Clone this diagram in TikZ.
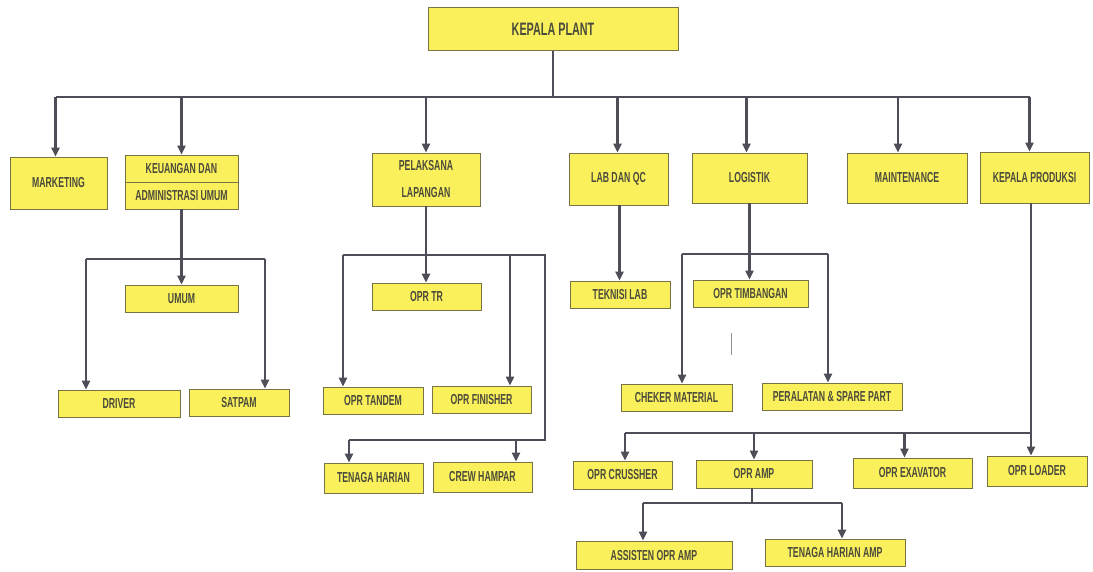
\documentclass[tikz,border=0pt]{standalone}
\usepackage{fontspec}
\setmainfont{Liberation Sans}[FakeStretch=0.6]
\usetikzlibrary{arrows.meta,calc,positioning}

\definecolor{boxfill}{RGB}{250,240,92}
\definecolor{boxline}{RGB}{120,115,70}
\definecolor{wire}{RGB}{78,78,88}
\definecolor{ink}{RGB}{75,75,60}

\begin{document}
\begin{tikzpicture}[x=1pt,y=-1pt,
  box/.style={draw=boxline,line width=0.8pt,fill=boxfill,text=ink,inner sep=0pt,
    font=\fontsize{14.5}{27}\selectfont\bfseries,align=center},
  line/.style={draw=wire,line width=2.6pt},
  arr/.style={line,-{Triangle[length=9pt,width=8pt]}}]
  \useasboundingbox (0,0) rectangle (1093,571);
  % top level
  \node[box,minimum width=250,minimum height=43,font=\fontsize{18}{20}\selectfont\bfseries] (plant) at (553,29) {KEPALA PLANT};
  \node[box,minimum width=97,minimum height=52] (mkt) at (58.5,183) {MARKETING};
  \node[box,minimum width=113,minimum height=54] (keu) at (181.5,182) {KEUANGAN DAN\\ADMINISTRASI UMUM};
  \draw[boxline,line width=0.8pt] (keu.west) -- (keu.east);
  \node[box,minimum width=108,minimum height=53] (pel) at (426,179.5) {PELAKSANA\\LAPANGAN};
  \node[box,minimum width=99,minimum height=52] (lab) at (618.5,179) {LAB DAN QC};
  \node[box,minimum width=115,minimum height=50] (log) at (749.5,178) {LOGISTIK};
  \node[box,minimum width=120,minimum height=50] (maint) at (907,178) {MAINTENANCE};
  \node[box,minimum width=109,minimum height=51] (prod) at (1034.5,177.5) {KEPALA PRODUKSI};
  % second level
  \node[box,minimum width=113,minimum height=27] (umum) at (181.5,298.5) {UMUM};
  \node[box,minimum width=122,minimum height=27] (driver) at (119,403.5) {DRIVER};
  \node[box,minimum width=100,minimum height=27] (satpam) at (239,402.5) {SATPAM};
  \node[box,minimum width=109,minimum height=27] (oprtr) at (426.5,296.5) {OPR TR};
  \node[box,minimum width=100,minimum height=27] (tandem) at (373,400.5) {OPR TANDEM};
  \node[box,minimum width=99,minimum height=27] (finisher) at (481.5,399.5) {OPR FINISHER};
  \node[box,minimum width=99,minimum height=30] (harian) at (373.5,478) {TENAGA HARIAN};
  \node[box,minimum width=99,minimum height=30] (crew) at (482.5,477) {CREW HAMPAR};
  \node[box,minimum width=100,minimum height=27] (teklab) at (620,294.5) {TEKNISI LAB};
  \node[box,minimum width=115,minimum height=27] (timbang) at (750.5,293.5) {OPR TIMBANGAN};
  \node[box,minimum width=111,minimum height=27] (cheker) at (676.5,397.5) {CHEKER MATERIAL};
  \node[box,minimum width=140,minimum height=27] (spare) at (832,396.5) {PERALATAN \& SPARE PART};
  \node[box,minimum width=99,minimum height=28] (crusher) at (622.5,475) {OPR CRUSSHER};
  \node[box,minimum width=116,minimum height=28] (amp) at (754,474) {OPR AMP};
  \node[box,minimum width=119,minimum height=30] (exa) at (912.5,473) {OPR EXAVATOR};
  \node[box,minimum width=100,minimum height=30] (loader) at (1037,471) {OPR LOADER};
  \node[box,minimum width=156,minimum height=28] (asisten) at (654,555) {ASSISTEN OPR AMP};
  \node[box,minimum width=140,minimum height=27] (hamp) at (835,552.5) {TENAGA HARIAN AMP};

  % main bus
  \coordinate (bus) at (0,97);
  \draw[line] (plant.south) -- (plant.south |- bus);
  \draw[line] ([xshift=-3]mkt.north |- bus) -- ([xshift=-5]prod.north |- bus);
  \draw[arr] ([xshift=-3]mkt.north |- bus) -- ([xshift=-3]mkt.north);
  \draw[arr] (keu.north |- bus) -- (keu.north);
  \draw[arr] (pel.north |- bus) -- (pel.north);
  \draw[arr] ([xshift=-1]lab.north |- bus) -- ([xshift=-1]lab.north);
  \draw[arr] ([xshift=-3]log.north |- bus) -- ([xshift=-3]log.north);
  \draw[arr] ([xshift=-9]maint.north |- bus) -- ([xshift=-9]maint.north);
  \draw[arr] ([xshift=-5]prod.north |- bus) -- ([xshift=-5]prod.north);

  % keuangan
  \coordinate (k1) at (86,259);
  \coordinate (k2) at (265,259);
  \draw[arr] (keu.south) -- (umum.north);
  \draw[line] (k1) -- (k2);
  \draw[arr] (k1) -- (k1 |- driver.north);
  \draw[arr] (k2) -- (k2 |- satpam.north);

  % pelaksana lapangan
  \coordinate (p1) at (343,255);
  \coordinate (p2) at (510,255);
  \coordinate (p3) at (545,255);
  \coordinate (p4) at (545,440);
  \coordinate (p5) at (349,440);
  \coordinate (p6) at (516,440);
  \draw[arr] (pel.south) -- (pel.south |- oprtr.north);
  \draw[line] (p1) -- (p3) -- (p4) -- (p5);
  \draw[arr] (p1) -- (p1 |- tandem.north);
  \draw[arr] (p2) -- (p2 |- finisher.north);
  \draw[arr] (p5) -- (p5 |- harian.north);
  \draw[arr] (p6) -- (p6 |- crew.north);

  % lab
  \draw[arr] ([xshift=1]lab.south) -- ([xshift=1]lab.south |- teklab.north);

  % logistik
  \coordinate (g1) at (682,254);
  \coordinate (g2) at (828,254);
  \draw[arr] (log.south) -- (log.south |- timbang.north);
  \draw[line] (g1) -- (g2);
  \draw[arr] (g1) -- (g1 |- cheker.north);
  \draw[arr] (g2) -- (g2 |- spare.north);
  \draw[wire!60,line width=1pt] (731,333) -- (731,355);

  % produksi
  \coordinate (r1) at (1031,433);
  \coordinate (r2) at (625,433);
  \draw[line] ([xshift=-3.5]prod.south) -- (r1) -- (r2);
  \draw[arr] (r2) -- (r2 |- crusher.north);
  \draw[arr] (amp.north |- r1) -- (amp.north);
  \draw[arr] ([xshift=-8]exa.north |- r1) -- ([xshift=-8]exa.north);
  \draw[arr] (r1) -- (r1 |- loader.north);

  % opr amp
  \coordinate (a1) at (643,503);
  \coordinate (a2) at (842,503);
  \draw[line] ([xshift=-2]amp.south) -- ([xshift=-2]amp.south |- a1);
  \draw[line] (a1) -- (a2);
  \draw[arr] (a1) -- (a1 |- asisten.north);
  \draw[arr] (a2) -- (a2 |- hamp.north);
\end{tikzpicture}
\end{document}
